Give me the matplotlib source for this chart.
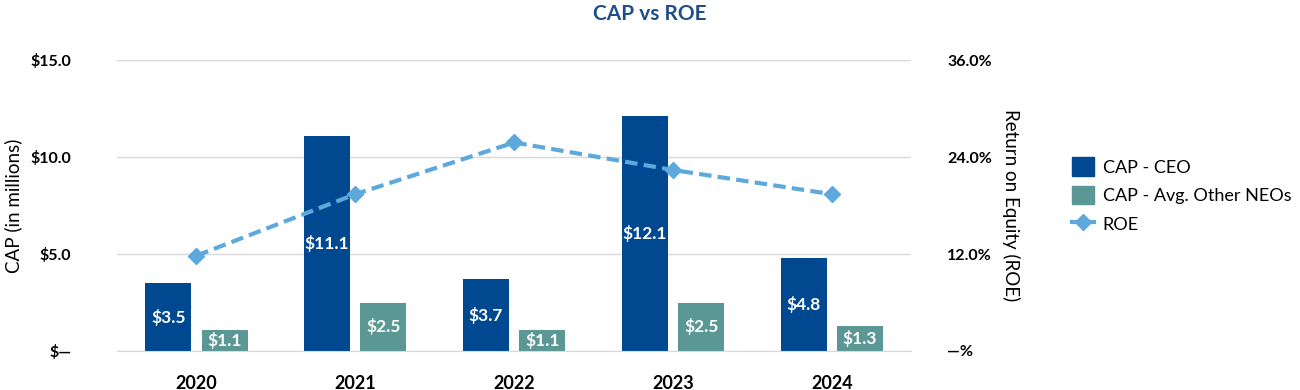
import matplotlib.pyplot as plt
import numpy as np
from matplotlib.ticker import FuncFormatter
from matplotlib.lines import Line2D
from matplotlib.patches import Patch

plt.rcParams['font.family'] = ['Lato', 'DejaVu Sans']

# data
years = ['2020', '2021', '2022', '2023', '2024']
cap_ceo = [3.5, 11.1, 3.7, 12.1, 4.8]
cap_neo = [1.1, 2.5, 1.1, 2.5, 1.3]
roe = [0.118, 0.194, 0.258, 0.224, 0.194]

c_ceo = '#004990'
c_neo = '#5b9794'
c_roe = '#5da9dd'

fig = plt.figure(figsize=(13, 3.9), dpi=100)
ax = fig.add_axes([0.09, 0.1, 0.611, 0.746])
ax2 = ax.twinx()

x = np.arange(len(years))
w = 0.29
off = 0.177
b1 = ax.bar(x - off, cap_ceo, w, color=c_ceo, zorder=2)
b2 = ax.bar(x + off, cap_neo, w, color=c_neo, zorder=2)

# value labels in the middle of each bar
for bars, vals in [(b1, cap_ceo), (b2, cap_neo)]:
    for b, v in zip(bars, vals):
        ax.text(b.get_x() + b.get_width() / 2, v / 2, f'${v:.1f}', ha='center', va='center',
                color='white', fontsize=12.5, fontweight='bold', zorder=3)

ax2.plot(x, roe, color=c_roe, lw=3, ls=(0, (3, 1.5)), marker='D', ms=8.5, zorder=4)

ax.set_xlim(-0.5, len(years) - 0.5)
ax.set_ylim(0, 15)
ax.set_yticks([0, 5, 10, 15])
ax.yaxis.set_major_formatter(FuncFormatter(lambda v, p: '$—' if v == 0 else f'${v:.1f}'))
ax2.set_ylim(0, 0.36)
ax2.set_yticks([0, 0.12, 0.24, 0.36])
ax2.yaxis.set_major_formatter(FuncFormatter(lambda v, p: '—%' if v == 0 else f'{v*100:.1f}%'))

ax.set_xticks(x)
ax.set_xticklabels(years, fontsize=13, fontweight='bold')
ax.tick_params(axis='x', length=0, pad=17)
ax.tick_params(axis='y', length=0, pad=33, labelsize=11.5)
ax2.tick_params(axis='y', length=0, pad=26, labelsize=11.5)
for lab in ax.get_yticklabels() + ax2.get_yticklabels():
    lab.set_fontweight('bold')

ax.grid(axis='y', color='#d9d9d9', lw=1, zorder=0)
ax.set_axisbelow(True)
for a in (ax, ax2):
    for s in a.spines.values():
        s.set_visible(False)
ax.spines['bottom'].set_visible(True)
ax.spines['bottom'].set_color('#d9d9d9')

ax.set_ylabel('CAP (in millions)', fontsize=13.5, labelpad=6)
ax2.set_ylabel('Return on Equity (ROE)', fontsize=13.5, rotation=270, labelpad=20)

fig.text(0.5, 0.965, 'CAP vs ROE', ha='center', va='center', fontsize=15,
         fontweight='bold', color='#1f4e89')

handles = [Patch(color=c_ceo), Patch(color=c_neo),
           Line2D([], [], color=c_roe, lw=3, marker='D', ms=8.5)]
fig.legend(handles, ['CAP - CEO', 'CAP - Avg. Other NEOs', 'ROE'], loc='center left',
           bbox_to_anchor=(0.812, 0.5), frameon=False, fontsize=13,
           handlelength=1.2, handleheight=1.2, handletextpad=0.5, labelspacing=0.55)

fig.savefig('out.png', dpi=100)
